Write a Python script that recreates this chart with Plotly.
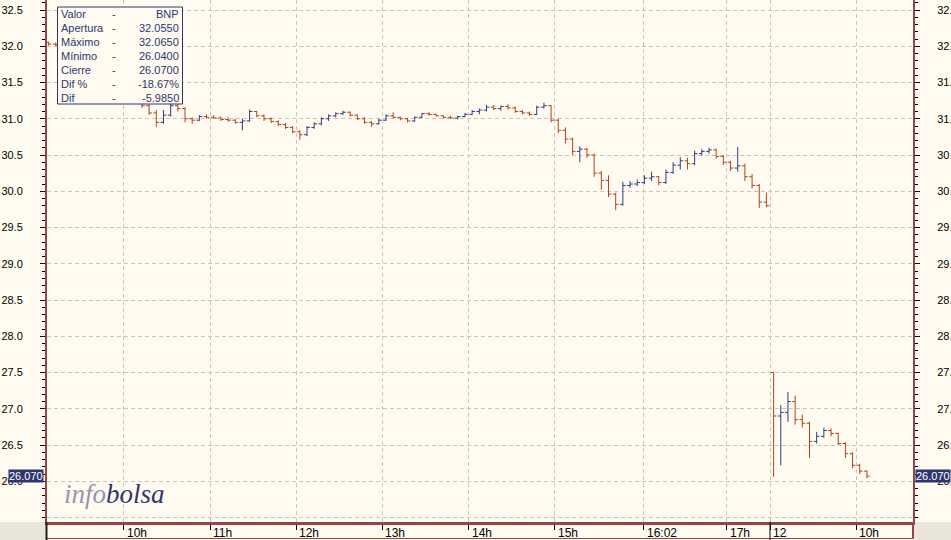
import plotly.graph_objects as go

# ---------------- data (5-minute bars) ----------------
# minutes since 09:00 of the first session; second session (day 12) starts at minute 510
bar_start = [5, 10, 15, 20, 25, 30, 35, 40, 45, 50, 55, 60, 65, 70, 75, 80, 85, 90, 95,
             100, 105, 110, 115, 120, 125, 130, 135, 140, 145, 150, 155, 160, 165, 170,
             175, 180, 185, 190, 195, 200, 205, 210, 215, 220, 225, 230, 235, 240, 245,
             250, 255, 260, 265, 270, 275, 280, 285, 290, 295, 300, 305, 310, 315, 320,
             325, 330, 335, 340, 345, 350, 355, 360, 365, 370, 375, 380, 385, 390, 395,
             400, 405, 410, 415, 420, 425, 430, 435, 440, 445, 450, 455, 460, 465, 470,
             475, 480, 485, 490, 495, 500, 505,
             510, 515, 520, 525, 530, 535, 540, 545, 550, 555, 560, 565, 570, 575]
opens = [32.055, 32.03, 32.02, 31.97, 31.88, 31.78, 31.65, 31.60, 31.50, 31.42, 31.35, 31.30, 31.27,
         31.24, 31.18, 31.08, 30.95, 31.05, 31.18, 31.14, 31.00, 30.98, 31.03, 31.02, 31.01,
         30.99, 30.98, 30.95, 30.97, 31.10, 31.04, 31.00, 30.96, 30.92, 30.88, 30.82, 30.78,
         30.88, 30.93, 31.00, 31.04, 31.07, 31.09, 31.05, 31.00, 30.95, 30.93, 30.98, 31.04,
         31.02, 31.00, 30.97, 31.02, 31.07, 31.06, 31.04, 31.02, 31.01, 31.03, 31.06, 31.10,
         31.12, 31.16, 31.14, 31.17, 31.15, 31.10, 31.08, 31.06, 31.16, 31.18, 30.98, 30.84,
         30.72, 30.55, 30.58, 30.50, 30.25, 30.15, 29.96, 29.82, 30.08, 30.10, 30.12, 30.18,
         30.20, 30.12, 30.26, 30.36, 30.42, 30.38, 30.52, 30.55, 30.57, 30.48, 30.40, 30.32,
         30.35, 30.20, 30.08, 29.85,
         27.50, 26.90, 26.95, 27.10, 26.85, 26.80, 26.55, 26.62, 26.70, 26.66, 26.52, 26.38,
         26.22, 26.14]
highs = [32.065, 32.05, 32.04, 31.99, 31.90, 31.80, 31.70, 31.62, 31.55, 31.48, 31.40, 31.34, 31.29,
         31.25, 31.20, 31.12, 31.12, 31.23, 31.22, 31.16, 31.02, 31.05, 31.06, 31.05, 31.03,
         31.02, 31.00, 31.00, 31.13, 31.11, 31.06, 31.02, 30.98, 30.94, 30.90, 30.84, 30.90,
         30.95, 31.02, 31.06, 31.09, 31.11, 31.10, 31.06, 31.02, 30.97, 31.00, 31.06, 31.09,
         31.03, 31.01, 31.03, 31.08, 31.09, 31.07, 31.05, 31.04, 31.04, 31.08, 31.12, 31.14,
         31.19, 31.19, 31.18, 31.20, 31.17, 31.12, 31.10, 31.18, 31.22, 31.19, 31.00, 30.88,
         30.74, 30.62, 30.60, 30.52, 30.28, 30.22, 29.98, 30.13, 30.14, 30.16, 30.22, 30.27,
         30.21, 30.30, 30.40, 30.47, 30.46, 30.56, 30.58, 30.60, 30.59, 30.50, 30.42, 30.61,
         30.38, 30.24, 30.10, 29.98,
         27.51, 27.05, 27.23, 27.18, 26.92, 26.82, 26.68, 26.74, 26.73, 26.67, 26.54, 26.40,
         26.24, 26.15]
lows = [32.01, 32.00, 31.95, 31.85, 31.75, 31.62, 31.55, 31.45, 31.38, 31.30, 31.27, 31.24, 31.23,
        31.15, 31.05, 30.89, 30.93, 31.03, 31.10, 30.95, 30.93, 30.97, 31.00, 31.00, 30.97,
        30.96, 30.93, 30.84, 30.96, 31.02, 30.97, 30.94, 30.90, 30.86, 30.80, 30.71, 30.76,
        30.86, 30.91, 30.97, 31.02, 31.05, 31.03, 30.98, 30.93, 30.89, 30.92, 30.97, 31.00,
        30.98, 30.95, 30.96, 31.01, 31.04, 31.03, 31.00, 31.00, 30.99, 31.02, 31.05, 31.06,
        31.10, 31.12, 31.11, 31.13, 31.08, 31.06, 31.04, 31.05, 31.14, 30.95, 30.80, 30.66,
        30.50, 30.40, 30.46, 30.20, 30.02, 29.92, 29.74, 29.80, 30.05, 30.07, 30.10, 30.14,
        30.08, 30.10, 30.24, 30.30, 30.30, 30.36, 30.49, 30.52, 30.45, 30.36, 30.28, 30.27,
        30.14, 30.04, 29.77, 29.78,
        26.06, 26.22, 26.82, 26.78, 26.74, 26.32, 26.52, 26.60, 26.62, 26.50, 26.32, 26.18,
        26.10, 26.04]
closes = [32.03, 32.02, 31.97, 31.88, 31.78, 31.65, 31.60, 31.50, 31.42, 31.35, 31.30, 31.27, 31.24,
          31.18, 31.08, 30.95, 31.05, 31.18, 31.14, 31.00, 30.98, 31.03, 31.02, 31.01, 30.99,
          30.98, 30.95, 30.97, 31.10, 31.04, 31.00, 30.96, 30.92, 30.88, 30.82, 30.78, 30.88,
          30.93, 31.00, 31.04, 31.07, 31.09, 31.05, 31.00, 30.95, 30.93, 30.98, 31.04, 31.02,
          31.00, 30.97, 31.02, 31.07, 31.06, 31.04, 31.02, 31.01, 31.03, 31.06, 31.10, 31.12,
          31.16, 31.14, 31.17, 31.15, 31.10, 31.08, 31.06, 31.16, 31.18, 30.98, 30.84, 30.72,
          30.55, 30.58, 30.50, 30.25, 30.15, 29.96, 29.82, 30.08, 30.10, 30.12, 30.18, 30.20,
          30.12, 30.26, 30.36, 30.42, 30.38, 30.52, 30.55, 30.57, 30.48, 30.40, 30.32, 30.35,
          30.20, 30.08, 29.85, 29.80,
          26.90, 26.95, 27.10, 26.85, 26.80, 26.55, 26.62, 26.70, 26.66, 26.52, 26.38, 26.22,
          26.14, 26.07]

tick_minutes = [60, 120, 180, 240, 300, 360, 422, 480, 510, 570]
tick_labels = ["10h", "11h", "12h", "13h", "14h", "15h", "16:02", "17h", "12", "10h"]
day_break = 510
symbol = "BNP"

# ---------------- styling / geometry ----------------
W, H = 951, 540
PL, PR, PT, PB = 47, 913, 0, 522
BG = "#fffbf0"
MAROON = "#8e4646"
NAVY = "#2d3670"
UP = "#333d7e"
DOWN = "#b0441e"
GRID = "#c9c6bd"
FONT = "Liberation Sans"
X_RANGE = [6.37, 609.6]
Y_RANGE = [25.438, 32.638]


def px(xp):
    return (xp - PL) / (PR - PL)


def py(yp):
    return (PB - yp) / (PB - PT)


fig = go.Figure()
fig.add_trace(go.Ohlc(
    x=[m + 2.5 for m in bar_start], open=opens, high=highs, low=lows, close=closes,
    increasing=dict(line=dict(color=UP, width=1)),
    decreasing=dict(line=dict(color=DOWN, width=1)),
    tickwidth=0.4, hoverinfo="skip", showlegend=False,
))
# empty trace so that the right-hand price axis is drawn
fig.add_trace(go.Scatter(x=[], y=[], yaxis="y2", mode="lines",
                         hoverinfo="skip", showlegend=False))

y_major = [25.5 + 0.5 * i for i in range(15)]
y_text = ["" if v < 26 else f"{v:.1f}" for v in y_major]
y_minor = [round(25.4 + 0.1 * i, 1) for i in range(73)]

yax = dict(range=Y_RANGE, tickmode="array", tickvals=y_major, ticktext=y_text,
           showgrid=True, gridcolor=GRID, griddash="4px,3px", gridwidth=1,
           zeroline=False, showline=True, linecolor=MAROON, linewidth=2,
           ticks="outside", ticklen=5, tickcolor="#000", tickwidth=1,
           tickfont=dict(family=FONT, size=11, color="#000"),
           ticklabelstandoff=15, automargin=False,
           minor=dict(tickvals=y_minor, ticks="outside", ticklen=3,
                      tickcolor="#000", showgrid=False))
y2ax = dict(yax)
y2ax.update(overlaying="y", side="right", showgrid=False, anchor="x")

fig.update_layout(
    width=W, height=H,
    margin=dict(l=PL, r=W - PR, t=PT, b=H - PB),
    paper_bgcolor=BG, plot_bgcolor=BG,
    xaxis=dict(range=X_RANGE, tickmode="array", tickvals=tick_minutes,
               ticktext=["" for _ in tick_labels], showticklabels=False,
               showgrid=True, gridcolor=GRID, griddash="4px,3px", gridwidth=1,
               zeroline=False, showline=True, linecolor=MAROON, linewidth=3,
               ticks="outside", ticklen=5, tickcolor="#000", automargin=False,
               rangeslider=dict(visible=False)),
    yaxis=yax,
    yaxis2=y2ax,
    showlegend=False,
)

shapes = []
# grey corner blocks under the axes
shapes.append(dict(type="rect", xref="paper", yref="paper", x0=px(0), x1=px(PL - 1),
                   y0=py(H), y1=py(PB), fillcolor="#e9e6dc", line=dict(width=0), layer="below"))
shapes.append(dict(type="rect", xref="paper", yref="paper", x0=px(PR + 1), x1=px(W),
                   y0=py(H), y1=py(PB), fillcolor="#e9e6dc", line=dict(width=0), layer="below"))
# lower frame
shapes.append(dict(type="line", xref="paper", yref="paper", x0=px(PL), x1=px(PR),
                   y0=py(538.5), y1=py(538.5), line=dict(color=MAROON, width=1)))
shapes.append(dict(type="line", xref="paper", yref="paper", x0=px(PL - 0.5), x1=px(PL - 0.5),
                   y0=py(H), y1=py(PB), line=dict(color="#222", width=2)))
shapes.append(dict(type="line", xref="paper", yref="paper", x0=px(PR), x1=px(PR),
                   y0=py(538.5), y1=py(PB), line=dict(color=MAROON, width=2)))
# day separator
shapes.append(dict(type="line", xref="x", yref="paper", x0=day_break, x1=day_break,
                   y0=py(H), y1=py(PB), line=dict(color="#000", width=1)))
# info box
shapes.append(dict(type="rect", xref="paper", yref="paper", x0=px(57.5), x1=px(182.5),
                   y0=py(104), y1=py(7), fillcolor=BG, line=dict(color=NAVY, width=1),
                   layer="above"))

annotations = []
for m, lab in zip(tick_minutes, tick_labels):
    annotations.append(dict(x=m, y=0, xref="x", yref="paper", text=lab, showarrow=False,
                            xanchor="left", yanchor="top", xshift=1, yshift=-2,
                            font=dict(family=FONT, size=12, color="#000")))

first_open = opens[0]
last_close = closes[-1]
diff = last_close - first_open
rows = [("Valor", symbol),
        ("Apertura", f"{first_open:.4f}"),
        ("Máximo", f"{max(highs):.4f}"),
        ("Mínimo", f"{min(lows):.4f}"),
        ("Cierre", f"{last_close:.4f}"),
        ("Dif %", f"{diff / first_open * 100:.2f}%"),
        ("Dif", f"{diff:.4f}")]
for i, (lab, val) in enumerate(rows):
    yy = py(14.3 + 14 * i)
    f = dict(family=FONT, size=11, color=NAVY)
    annotations.append(dict(x=px(59), y=yy, xref="paper", yref="paper", text=lab,
                            showarrow=False, xanchor="left", yanchor="middle", font=f))
    annotations.append(dict(x=px(114), y=yy, xref="paper", yref="paper", text="-",
                            showarrow=False, xanchor="center", yanchor="middle", font=f))
    annotations.append(dict(x=px(181), y=yy, xref="paper", yref="paper", text=val,
                            showarrow=False, xanchor="right", yanchor="middle", font=f))

# last price tags
for side in ("left", "right"):
    annotations.append(dict(
        x=0 if side == "left" else 1, y=last_close, xref="paper", yref="y",
        text=f"{last_close:.3f}", showarrow=False,
        xanchor="right" if side == "left" else "left", yanchor="middle",
        xshift=-3 if side == "left" else 2,
        bgcolor=NAVY, borderpad=0,
        font=dict(family=FONT, size=11, color="#ffffff")))

# logo
annotations.append(dict(
    x=px(62), y=py(494), xref="paper", yref="paper", showarrow=False,
    xanchor="left", yanchor="middle",
    text='<i><span style="color:#9297b3">info</span><span style="color:#2f386c">bolsa</span></i>',
    font=dict(family="Liberation Serif", size=27)))

fig.update_layout(shapes=shapes, annotations=annotations)
fig.write_html("out.html", config={"displayModeBar": False},
               post_script="document.body.style.margin='0';document.body.style.overflow='hidden';")
